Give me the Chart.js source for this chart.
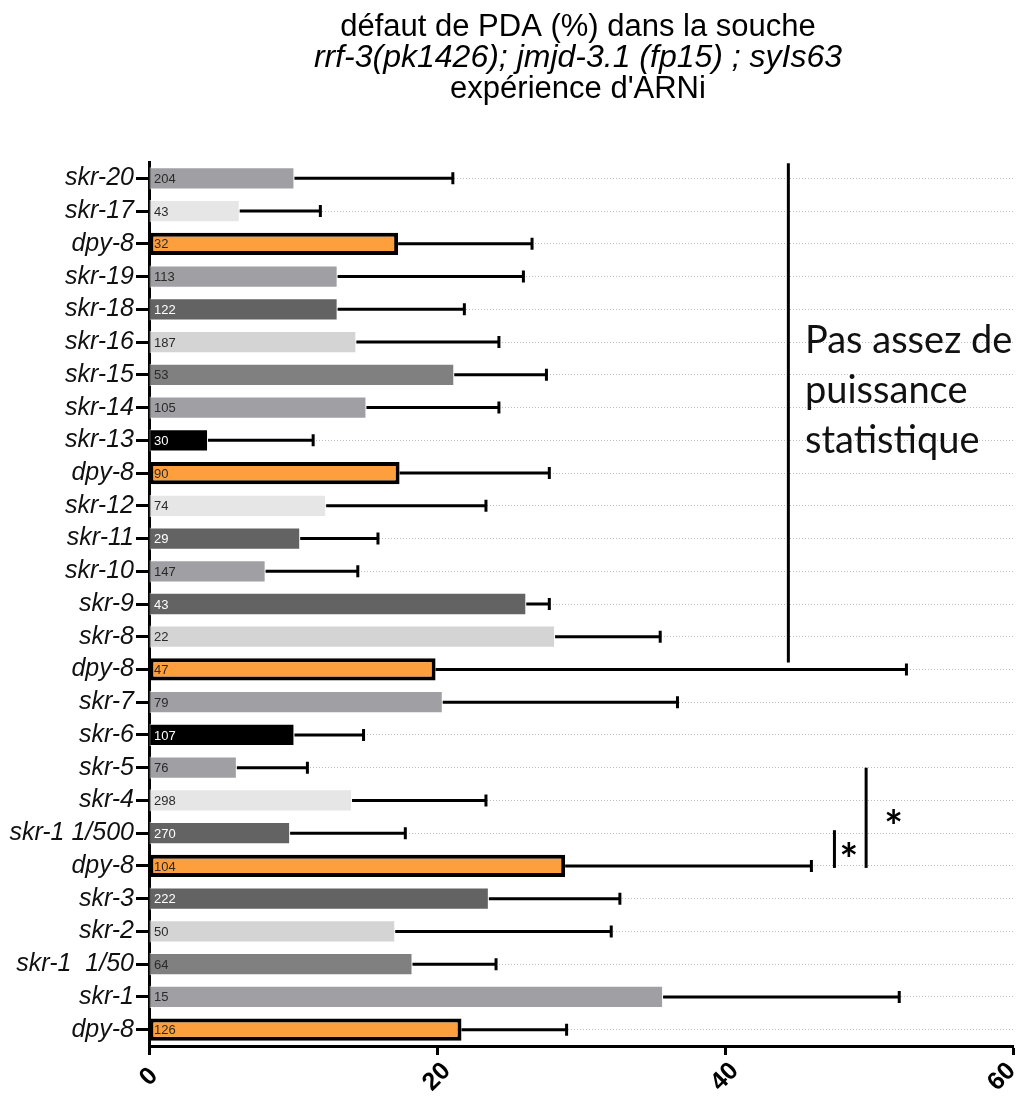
<!DOCTYPE html>
<html>
<head>
<meta charset="utf-8">
<title>défaut de PDA</title>
<script src="https://cdn.jsdelivr.net/npm/chart.js@4.4.1/dist/chart.umd.min.js"></script>
<style>
    html, body { margin: 0; padding: 0; background: #fff; }
    #wrap { width: 1020px; height: 1097px; }
</style>
</head>
<body>
<div id="wrap"><canvas id="myChart" width="1020" height="1097"></canvas></div>
<script>
let categories = ["skr-20", "skr-17", "dpy-8", "skr-19", "skr-18", "skr-16", "skr-15", "skr-14", "skr-13",
    "dpy-8", "skr-12", "skr-11", "skr-10", "skr-9", "skr-8", "dpy-8", "skr-7", "skr-6", "skr-5", "skr-4",
    "skr-1 1/500", "dpy-8", "skr-3", "skr-2", "skr-1  1/50", "skr-1", "dpy-8"];
let defautPDA = [10.1, 6.3, 17.3, 13.1, 13.1, 14.4, 21.2, 15.1, 4.1,
    17.4, 12.3, 10.5, 8.1, 26.2, 28.2, 19.9, 20.4, 10.1, 6.1, 14.1,
    9.8, 28.9, 23.6, 17.1, 18.3, 35.7, 21.7];
let errUp = [11.0, 5.6, 9.3, 12.9, 8.8, 9.9, 6.4, 9.2, 7.3,
    10.4, 11.1, 5.4, 6.4, 1.6, 7.3, 32.7, 16.3, 4.8, 4.9, 9.3,
    8.0, 17.1, 9.1, 15.0, 5.8, 16.4, 7.3];
let nWorms = [204, 43, 32, 113, 122, 187, 53, 105, 30,
    90, 74, 29, 147, 43, 22, 47, 79, 107, 76, 298,
    270, 104, 222, 50, 64, 15, 126];
let xTicks = [0, 20, 40, 60];

let titleLines = [
    { text: "défaut de PDA (%) dans la souche", italic: false },
    { text: "rrf-3(pk1426); jmjd-3.1 (fp15) ; syIs63", italic: true },
    { text: "expérience d'ARNi", italic: false }
];

let grey1 = "#a0a0a4";   // medium
let grey2 = "#e6e6e6";   // very light
let grey3 = "#d4d4d4";   // light
let grey4 = "#636363";   // dark
let grey5 = "#808080";
let orange = "#fe9f3d";
let barColors = [grey1, grey2, orange, grey1, grey4, grey3, grey5, grey1, "#000000",
    orange, grey2, grey4, grey1, grey4, grey3, orange, grey1, "#000000", grey1, grey2,
    grey4, orange, grey4, grey3, grey5, grey1, orange];

function isDark(c) {
    return c === grey4 || c === "#000000";
}

// title, 3 lines, middle one italic
const titlePlugin = {
    id: "titleLines",
    afterDraw(chart) {
        let ctx = chart.ctx;
        let baselines = [36, 67, 98];
        ctx.save();
        ctx.fillStyle = "#000";
        ctx.textAlign = "center";
        ctx.textBaseline = "alphabetic";
        titleLines.forEach((line, i) => {
            ctx.font = (line.italic ? "italic 32px" : "31px") + " 'Liberation Sans', Arial, sans-serif";
            ctx.fillText(line.text, 578, baselines[i]);
        });
        ctx.restore();
    }
};

// x tick labels, turned 45 degrees, centred under the tick
const xLabelPlugin = {
    id: "xLabels",
    afterDraw(chart) {
        let ctx = chart.ctx;
        let xs = chart.scales.x;
        ctx.save();
        ctx.fillStyle = "#000";
        ctx.font = "bold 25px 'Liberation Sans', Arial, sans-serif";
        ctx.textAlign = "center";
        ctx.textBaseline = "middle";
        xs.ticks.forEach(t => {
            let x = Math.min(xs.getPixelForValue(t.value), chart.width - 18);
            ctx.save();
            ctx.translate(x, 1077);
            ctx.rotate(-Math.PI / 4);
            ctx.fillText(String(t.value), 0, 0);
            ctx.restore();
        });
        ctx.restore();
    }
};

// error bars (upper only) + n inside bars
const errorBarPlugin = {
    id: "errorBars",
    afterDatasetsDraw(chart) {
        let ctx = chart.ctx;
        let xs = chart.scales.x;
        let ys = chart.scales.y;
        ctx.save();
        ctx.strokeStyle = "#000";
        ctx.lineWidth = 3;
        defautPDA.forEach((v, i) => {
            let x0 = xs.getPixelForValue(v);
            let x1 = xs.getPixelForValue(v + errUp[i]);
            let y = ys.getPixelForValue(i);
            ctx.beginPath();
            ctx.moveTo(x0, y);
            ctx.lineTo(x1, y);
            ctx.moveTo(x1, y - 6);
            ctx.lineTo(x1, y + 6);
            ctx.stroke();
        });
        ctx.font = "13px 'Liberation Sans', Arial, sans-serif";
        ctx.textAlign = "left";
        ctx.textBaseline = "middle";
        nWorms.forEach((n, i) => {
            let y = ys.getPixelForValue(i);
            ctx.fillStyle = isDark(barColors[i]) ? "#ffffff" : "#2a2a2a";
            ctx.fillText(String(n), xs.getPixelForValue(0) + 5, y + 1);
        });
        ctx.restore();
    }
};

// annotations on the right: bracket lines, stars, note
const notesPlugin = {
    id: "notes",
    afterDraw(chart) {
        let ctx = chart.ctx;
        let xs = chart.scales.x;
        let ys = chart.scales.y;
        ctx.save();
        ctx.strokeStyle = "#000";
        ctx.lineWidth = 3;

        let xl = xs.getPixelForValue(44.4);
        ctx.beginPath();
        ctx.moveTo(xl, ys.getPixelForValue(0) - 15);
        ctx.lineTo(xl, ys.getPixelForValue(15) - 7);
        ctx.stroke();

        let xa = xs.getPixelForValue(47.6);
        ctx.beginPath();
        ctx.moveTo(xa, ys.getPixelForValue(20) - 3);
        ctx.lineTo(xa, ys.getPixelForValue(21) + 2);
        ctx.stroke();

        let xb = xs.getPixelForValue(49.8);
        ctx.beginPath();
        ctx.moveTo(xb, ys.getPixelForValue(18));
        ctx.lineTo(xb, ys.getPixelForValue(21) + 2);
        ctx.stroke();

        ctx.fillStyle = "#000";
        ctx.font = "bold 44px Lato, 'DejaVu Sans', sans-serif";
        ctx.textAlign = "center";
        ctx.textBaseline = "middle";
        ctx.fillText("*", xs.getPixelForValue(48.6), ys.getPixelForValue(20.5) + 11);
        ctx.fillText("*", xs.getPixelForValue(51.7), ys.getPixelForValue(19.5) + 11);

        ctx.font = "38px Lato, 'Open Sans', sans-serif";
        ctx.textAlign = "left";
        ctx.fillStyle = "#111";
        ["Pas assez de", "puissance", "statistique"].forEach((t, i) => {
            ctx.fillText(t, 805, 341 + i * 50);
        });
        ctx.restore();
    }
};

let chartGraph;

function initChart() {
    let ctx = document.getElementById("myChart").getContext("2d");
    chartGraph = new Chart(ctx, {
        type: "bar",
        data: {
            labels: categories,
            datasets: [{
                data: defautPDA,
                backgroundColor: barColors,
                borderColor: barColors.map(c => c === orange ? "#000000" : "rgba(255,255,255,0.6)"),
                borderWidth: barColors.map(c => c === orange ? 4 : 1),
                borderSkipped: false,
                barPercentage: 0.68,
                categoryPercentage: 1.0
            }]
        },
        options: {
            indexAxis: "y",
            responsive: false,
            animation: false,
            layout: { padding: { top: 162, right: 7, left: 0, bottom: 0 } },
            plugins: {
                legend: { display: false },
                tooltip: { enabled: false },
                title: { display: false }
            },
            scales: {
                x: {
                    type: "linear",
                    min: 0,
                    max: 60,
                    afterBuildTicks: function(scale) {
                        scale.ticks = xTicks.map(v => ({ value: v }));
                    },
                    afterFit: function(scale) {
                        scale.height = 51;
                        scale.paddingLeft = 0;
                        scale.paddingRight = 0;
                    },
                    grid: {
                        drawOnChartArea: false,
                        drawTicks: true,
                        tickLength: 9,
                        tickWidth: 3,
                        tickColor: "#000"
                    },
                    border: { display: true, color: "#000", width: 3 },
                    ticks: { display: false }
                },
                y: {
                    afterFit: function(scale) {
                        scale.width = 149;
                    },
                    grid: {
                        offset: false,
                        drawOnChartArea: true,
                        drawTicks: true,
                        color: "#bdbdbd",
                        lineWidth: 1,
                        tickLength: 13,
                        tickWidth: 3,
                        tickColor: "#000",
                        tickBorderDash: []
                    },
                    border: { display: true, color: "#000", width: 3, dash: [1, 2] },
                    ticks: {
                        autoSkip: false,
                        padding: 2,
                        color: "#111",
                        font: { family: "'Liberation Sans', Arial, sans-serif", size: 25, style: "italic" }
                    }
                }
            }
        },
        plugins: [titlePlugin, errorBarPlugin, notesPlugin, xLabelPlugin]
    });
}

initChart();
</script>
</body>
</html>
